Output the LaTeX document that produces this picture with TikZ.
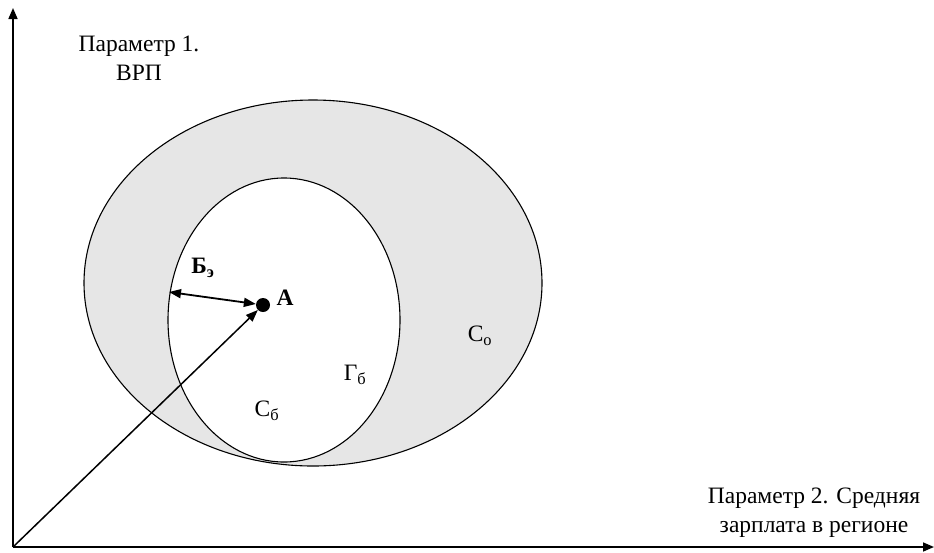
\documentclass[tikz,border=0pt]{standalone}
\usepackage{fontspec}
\setmainfont{Liberation Serif}
\usetikzlibrary{arrows.meta}
\definecolor{shade}{HTML}{E6E6E6}
\begin{document}
\begin{tikzpicture}[x=1pt,y=-1pt,
  axis/.style={line width=1.6pt,-{Triangle[length=11pt,width=9pt]}},
  ell/.style={line width=1.1pt},
  lbl/.style={font=\fontsize{23.5}{29}\selectfont,inner sep=0pt,align=center},
  arr/.style={line width=1.5pt,-{Triangle[length=12pt,width=9pt]}}]
\useasboundingbox (0,0) rectangle (934,552);
\coordinate (O) at (13,547);
\coordinate (Yend) at (13,8);
\coordinate (Xend) at (934,547);
\draw[ell,fill=shade] (313,283) ellipse [x radius=229, y radius=183];
\draw[ell,fill=white] (284,320) ellipse [x radius=116, y radius=142];
\draw[axis] (O) -- (Yend);
\draw[axis] (O) -- (Xend);
\node[circle,fill=black,minimum size=14pt,inner sep=0pt] (A) at (263,305) {};
\coordinate (B) at (169,292);
\draw[arr] (O) -- (A);
\draw[line width=1.8pt,{Triangle[length=12pt,width=9pt]}-{Triangle[length=12pt,width=9pt]}] (B) -- (A);
\node[lbl,font=\fontsize{23.5}{29}\selectfont\bfseries] (Al) at (285,298) {А};
\node[lbl,font=\fontsize{23.5}{29}\selectfont\bfseries] (Bl) at (203,268) {Б\textsubscript{э}};
\node[lbl] (Co) at (480,336) {С\textsubscript{о}};
\node[lbl] (Gb) at (355,375) {Г\textsubscript{б}};
\node[lbl] (Cb) at (267,411) {С\textsubscript{б}};
\node[lbl] (P1) at (139,58) {Параметр 1.\\ВРП};
\node[lbl] (P2) at (814,513) {Параметр 2. Средняя\\зарплата в регионе};
\end{tikzpicture}
\end{document}
